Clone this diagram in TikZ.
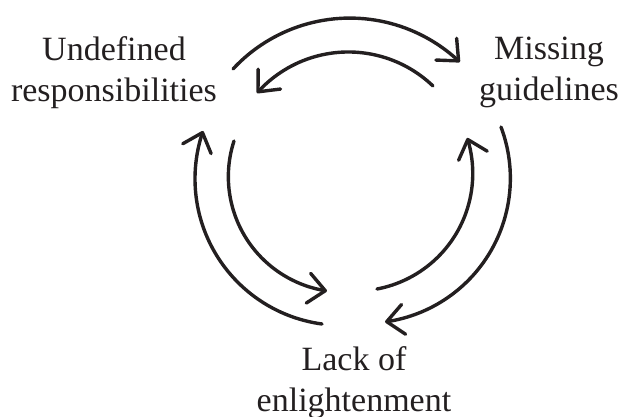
\documentclass[tikz,border=0pt]{standalone}
\usepackage{fontspec}
\setmainfont{Liberation Serif}
\usetikzlibrary{arrows.meta,bending}
\definecolor{ink}{HTML}{231F20}
\begin{document}
\begin{tikzpicture}[x=1pt,y=-1pt,
  lbl/.style={text=ink,align=center,anchor=base,inner sep=0pt,
    font=\fontsize{34}{40.8}\selectfont},
  arc/.style={draw=ink,line width=3.4pt,line cap=round,line join=round,
    -{Straight Barb[length=17pt,width=30pt,line cap=round,line join=round,flex]}}]
\useasboundingbox (0,0) rectangle (622,416);
\node[lbl] (und) at (114,101.7) {Undefined\\responsibilities};
\node[lbl] (mis) at (549,100.7) {Missing\\guidelines};
\node[lbl] (lack) at (354,411) {Lack of\\enlightenment};
% top outer: Undefined -> Missing
\coordinate (to1) at (233,69);
\draw[arc] (to1) arc[start angle=-137.1, end angle=-46.4, radius=159.5];
% top inner: Missing -> Undefined
\coordinate (ti1) at (433,86);
\draw[arc] (ti1) arc[start angle=-46.2, end angle=-138.4, radius=122.3];
% left outer: Lack -> Undefined
\coordinate (lo1) at (322,324);
\draw[arc] (lo1) arc[start angle=97.65, end angle=199.06, radius=146.5];
% left inner: Undefined -> Lack
\coordinate (li1) at (234,141);
\draw[arc] (li1) arc[start angle=198.0, end angle=98.4, radius=115.5];
% right inner: Lack -> Missing
\coordinate (ri1) at (377,289);
\draw[arc] (ri1) arc[start angle=79.3, end angle=-17.6, radius=117.6];
% right outer: Missing -> Lack
\coordinate (ro1) at (501,127);
\draw[arc] (ro1) arc[start angle=-20.7, end angle=82.2, radius=145.0];
\end{tikzpicture}
\end{document}
